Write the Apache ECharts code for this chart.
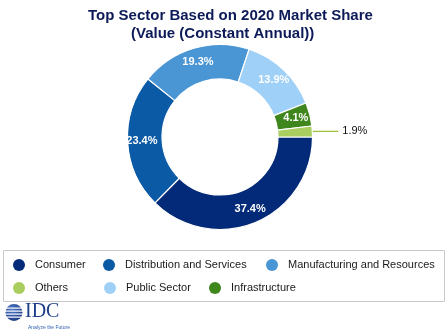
<!DOCTYPE html>
<html>
<head>
<meta charset="utf-8">
<script src="https://cdn.jsdelivr.net/npm/echarts@6/dist/echarts.min.js"></script>
<style>
html,body{margin:0;padding:0;background:#fff;}
#chart{width:448px;height:333px;}
</style>
</head>
<body>
<div id="chart"></div>
<script>
const titleLines = ['Top Sector Based on 2020 Market Share', '(Value (Constant Annual))'];
const categories = ['Consumer', 'Distribution and Services', 'Manufacturing and Resources', 'Public Sector', 'Infrastructure', 'Others'];
const shares = [37.4, 23.4, 19.3, 13.9, 4.1, 1.9];
const colors = ['#032a78', '#0b5aa6', '#4a96d4', '#9fd0f7', '#3f861c', '#a9cd5e'];
const legendRows = [
  ['Consumer', 'Distribution and Services', 'Manufacturing and Resources'],
  ['Others', 'Public Sector', 'Infrastructure']
];
const legendX = [[13, 103, 266], [13, 104, 209]];
const legendY = [259, 282];

const chart = echarts.init(document.getElementById('chart'), null, {renderer: 'canvas'});

const data = categories.map((name, i) => {
  const item = {name: name, value: shares[i], itemStyle: {color: colors[i]}};
  if (name === 'Others') {
    item.label = {position: 'outside', color: '#111', fontWeight: 'normal', fontSize: 11, distanceToLabelLine: 4};
  }
  return item;
});

const legends = [];
legendRows.forEach((row, r) => {
  row.forEach((name, c) => {
    legends.push({
      data: [name], left: legendX[r][c], top: legendY[r], padding: 0,
      icon: 'circle', itemWidth: 12, itemHeight: 12, selectedMode: false,
      itemStyle: {borderWidth: 0, shadowBlur: 0},
      textStyle: {fontFamily: 'Liberation Sans, Arial', fontSize: 11, color: '#1a1a1a', padding: [0, 0, 0, 5]}
    });
  });
});

chart.setOption({
  animation: false,
  backgroundColor: '#fff',
  legend: legends,
  graphic: [
    {type: 'text', left: 88, top: 8, style: {text: titleLines[0], font: 'bold 15px "Liberation Sans", Arial', fill: '#0c1a58'}},
    {type: 'text', left: 131, top: 26, style: {text: titleLines[1], font: 'bold 15px "Liberation Sans", Arial', fill: '#0c1a58'}},
    {type: 'rect', shape: {x: 3.5, y: 250.5, width: 441, height: 51}, style: {fill: 'none', stroke: '#c8c8c8', lineWidth: 1}, z: -1},
    {type: 'circle', shape: {cx: 14, cy: 312.5, r: 8.5}, style: {fill: new echarts.graphic.RadialGradient(0.4, 0.35, 0.8, [{offset: 0, color: '#4f7cc9'}, {offset: 1, color: '#142f78'}])}},
    {type: 'rect', shape: {x: 4, y: 307.5, width: 20, height: 1.2}, style: {fill: '#fff'}},
    {type: 'rect', shape: {x: 4, y: 310.5, width: 20, height: 1.2}, style: {fill: '#fff'}},
    {type: 'rect', shape: {x: 4, y: 313.5, width: 20, height: 1.2}, style: {fill: '#fff'}},
    {type: 'rect', shape: {x: 4, y: 316.5, width: 20, height: 1.2}, style: {fill: '#fff'}},
    {type: 'text', x: 25, y: 312, style: {text: 'IDC', font: '20px "Liberation Serif", "Times New Roman", serif', fill: '#1d3f8a', verticalAlign: 'middle'}},
    {type: 'text', x: 28, y: 328, style: {text: 'Analyze the Future', font: '5px "Liberation Sans", Arial', fill: '#3460b0', verticalAlign: 'middle'}}
  ],
  series: [{
    type: 'pie',
    center: [220, 137],
    radius: [58, 92.5],
    startAngle: 0,
    clockwise: true,
    avoidLabelOverlap: false,
    data: data,
    itemStyle: {borderColor: '#fff', borderWidth: 1.2},
    label: {
      show: true, position: 'inside', formatter: '{c}%',
      color: '#fff', fontWeight: 'bold', fontSize: 11, fontFamily: 'Liberation Sans, Arial'
    },
    labelLine: {show: true, length: 3, length2: 23, lineStyle: {color: '#9cc23a', width: 1.3}},
    emphasis: {disabled: true}
  }]
});
</script>
</body>
</html>
